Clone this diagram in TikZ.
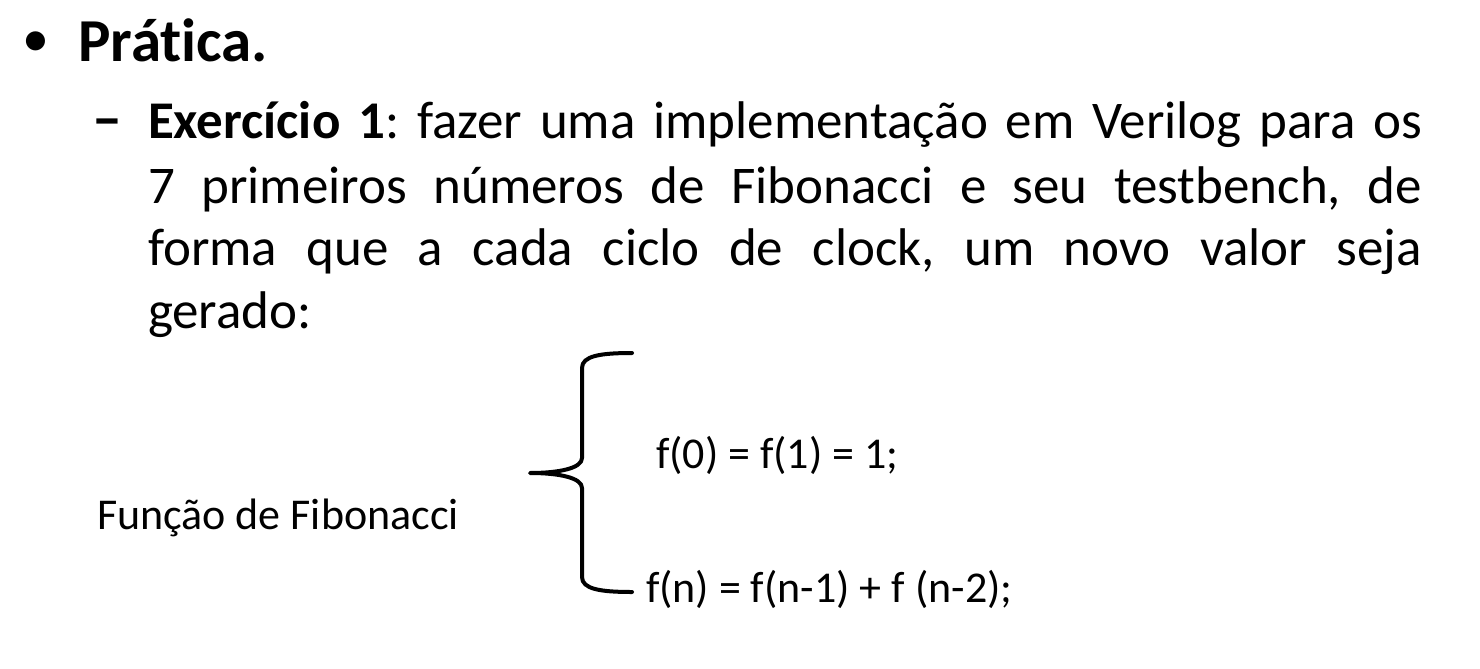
\documentclass[tikz,border=0pt]{standalone}
\usepackage{fontspec}
\setmainfont{Carlito}[Ligatures={NoCommon,NoContextual}]
\frenchspacing
\begin{document}
\begin{tikzpicture}[x=1pt,y=-1pt,
  body/.style={anchor=base west,inner sep=0pt,outer sep=0pt,font=\fontsize{53}{63}\selectfont},
  small/.style={anchor=base west,inner sep=0pt,outer sep=0pt,font=\fontsize{44}{52}\selectfont},
  bracestroke/.style={line width=4pt,line cap=round,line join=round}]
\fill[white] (0,0) rectangle (1480,669);
\useasboundingbox (0,0) rectangle (1480,669);
\node[anchor=base west,inner sep=0pt,font=\fontsize{54}{63}\selectfont] (bullet) at (22,57) {•};
\node[anchor=base west,inner sep=0pt,font=\bfseries\fontsize{61}{70}\selectfont] (title) at (78,62) {Prát\kern0pt ica.};
\node[body,font=\bfseries\fontsize{60}{63}\selectfont] (dash) at (92,138) {–};
\node[body] (l1) at (148,138) {\makebox[1274pt][s]{\textbf{Exercício 1}: fazer uma implementação em Verilog para os}};
\node[body] (l2) at (148,203) {\makebox[1274pt][s]{7 primeiros números de Fibonacci e seu testbench, de}};
\node[body] (l3) at (148,265) {\makebox[1274pt][s]{forma que a cada ciclo de clock, um novo valor seja}};
\node[body] (l4) at (148,328) {gerado:};
\node[small] (label) at (97,529) {Função de Fibonacci};
\node[small] (f0) at (656,468) {f(0) = f(1) = 1;};
\node[small] (fn) at (646,602) {f(n) = f(n-1) + f (n-2);};
\coordinate (btop) at (632,353);
\coordinate (btip) at (530,473);
\coordinate (bbot) at (632,592);
\draw[bracestroke] (btop) .. controls (600,353) and (582,356) .. (582,368)
  -- (582,458) .. controls (582,468) and (560,473) .. (btip)
  .. controls (560,473) and (582,478) .. (582,488)
  -- (582,577) .. controls (582,589) and (600,592) .. (bbot);
\end{tikzpicture}
\end{document}
